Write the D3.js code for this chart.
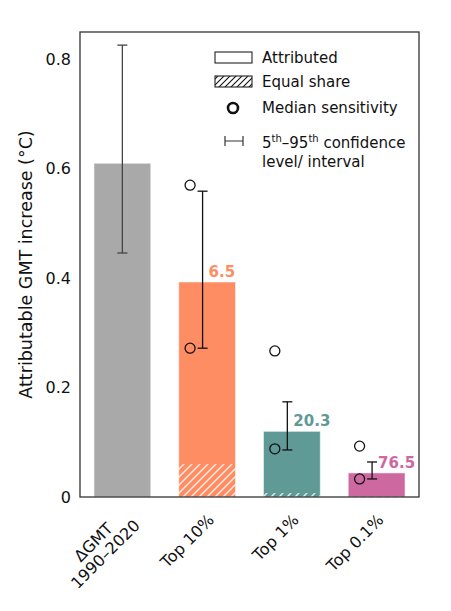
<!DOCTYPE html>
<html lang="en">
<head>
  <meta charset="UTF-8" />
  <title>Attributable GMT increase</title>
  <script src="https://d3js.org/d3.v7.min.js"></script>
  <style>
    body { margin: 0; background: #fff; }
    svg { font-family: 'DejaVu Sans', 'Liberation Sans', sans-serif; }
  </style>
</head>
<body>
  <svg></svg>

  <script>
    const categories = ["ΔGMT\n1990–2020", "Top 10%", "Top 1%", "Top 0.1%"];
    const attributed = [0.61, 0.393, 0.12, 0.044];
    const equalShare = [null, 0.06, 0.007, 0.0007];
    const ciLow = [0.446, 0.272, 0.086, 0.033];
    const ciHigh = [0.826, 0.559, 0.174, 0.064];
    const medianLow = [null, 0.272, 0.088, 0.033];
    const medianHigh = [null, 0.57, 0.267, 0.093];
    const ratioLabels = [null, "6.5", "20.3", "76.5"];
    const barColors = ["#a9a9a9", "#fe8d63", "#5f9a97", "#cd68a0"];
    const yTicks = [0, 0.2, 0.4, 0.6, 0.8];

    const width = 451, height = 611;
    const margin = { top: 32, right: 32, bottom: 114, left: 80 };

    const svg = d3.select("svg").attr("width", width).attr("height", height);
    const defs = svg.append("defs");

    // white hatch on the bars, black hatch in the legend
    defs.append("pattern")
      .attr("id", "hatch").attr("patternUnits", "userSpaceOnUse")
      .attr("width", 8).attr("height", 8)
      .append("path")
      .attr("d", "M-2,2 l4,-4 M0,8 l8,-8 M6,10 l4,-4")
      .attr("stroke", "#fff").attr("stroke-width", 1.4).attr("opacity", 0.85);
    defs.append("pattern")
      .attr("id", "hatchBlack").attr("patternUnits", "userSpaceOnUse")
      .attr("width", 6).attr("height", 6)
      .append("path")
      .attr("d", "M-2,2 l4,-4 M0,6 l6,-6 M4,8 l4,-4")
      .attr("stroke", "#111").attr("stroke-width", 1.1);

    const x = d3.scaleBand()
      .domain(categories)
      .range([margin.left, width - margin.right])
      .paddingInner(0.33)
      .paddingOuter(0.165);

    const y = d3.scaleLinear()
      .domain([0, 0.85])
      .range([height - margin.bottom, margin.top]);

    const bw = x.bandwidth();
    const cx = d => x(d) + bw / 2;

    // bars
    svg.append("g").selectAll("rect")
      .data(categories)
      .join("rect")
      .attr("x", d => x(d))
      .attr("width", bw)
      .attr("y", (d, i) => y(attributed[i]))
      .attr("height", (d, i) => y(0) - y(attributed[i]))
      .attr("fill", (d, i) => barColors[i])
      .attr("stroke", "#fff").attr("stroke-opacity", 0.5).attr("stroke-width", 1);

    // equal share hatch
    svg.append("g").selectAll("rect")
      .data(categories.filter((d, i) => equalShare[i] != null))
      .join("rect")
      .attr("x", d => x(d))
      .attr("width", bw)
      .attr("y", d => y(equalShare[categories.indexOf(d)]))
      .attr("height", d => y(0) - y(equalShare[categories.indexOf(d)]))
      .attr("fill", "url(#hatch)");

    // frame
    svg.append("rect")
      .attr("x", margin.left).attr("y", margin.top)
      .attr("width", width - margin.left - margin.right)
      .attr("height", height - margin.top - margin.bottom)
      .attr("fill", "none").attr("stroke", "#333").attr("stroke-width", 1.3);

    // error bars
    const errX = (d, i) => cx(d) + (i === 0 ? 0 : -0.08 * bw);
    const err = svg.append("g").selectAll("g")
      .data(categories)
      .join("g")
      .attr("stroke", (d, i) => i === 0 ? "#444" : "#111")
      .attr("stroke-width", 1.3);
    err.append("line")
      .attr("x1", errX).attr("x2", errX)
      .attr("y1", (d, i) => y(ciLow[i])).attr("y2", (d, i) => y(ciHigh[i]));
    [ciLow, ciHigh].forEach(arr => {
      err.append("line")
        .attr("x1", (d, i) => errX(d, i) - 5).attr("x2", (d, i) => errX(d, i) + 5)
        .attr("y1", (d, i) => y(arr[i])).attr("y2", (d, i) => y(arr[i]));
    });

    // median sensitivity circles
    [medianLow, medianHigh].forEach(arr => {
      svg.append("g").selectAll("circle")
        .data(categories.filter((d, i) => arr[i] != null))
        .join("circle")
        .attr("cx", d => cx(d) - 0.3 * bw)
        .attr("cy", d => y(arr[categories.indexOf(d)]))
        .attr("r", 5)
        .attr("fill", "none").attr("stroke", "#111").attr("stroke-width", 1.3);
    });

    // ratio labels
    svg.append("g").selectAll("text")
      .data(categories.filter((d, i) => ratioLabels[i] != null))
      .join("text")
      .attr("x", d => errX(d, 1) + 6)
      .attr("y", d => y(attributed[categories.indexOf(d)]) - 5)
      .attr("fill", d => barColors[categories.indexOf(d)])
      .attr("font-size", 15).attr("font-weight", "bold")
      .text(d => ratioLabels[categories.indexOf(d)]);

    // y axis
    const yAxis = svg.append("g")
      .attr("transform", `translate(${margin.left},0)`)
      .call(d3.axisLeft(y).tickValues(yTicks).tickSize(0).tickPadding(9)
        .tickFormat(d => d === 0 ? "0" : d3.format(".1f")(d)));
    yAxis.select(".domain").remove();
    yAxis.selectAll("text").attr("font-size", 16).attr("fill", "#111")
      .attr("font-family", "'DejaVu Sans', sans-serif");

    svg.append("text")
      .attr("transform", `translate(26,${(margin.top + height - margin.bottom) / 2}) rotate(-90)`)
      .attr("text-anchor", "middle").attr("dy", "0.35em")
      .attr("font-size", 17.5).attr("fill", "#111")
      .text("Attributable GMT increase (°C)");

    // x labels, rotated
    const xl = svg.append("g").selectAll("g")
      .data(categories)
      .join("g")
      .attr("transform", d => `translate(${cx(d) + (d.includes("\n") ? 12 : 8)},521) rotate(-45)`);
    xl.each(function(d) {
      const lines = d.split("\n");
      const t = d3.select(this).append("text")
        .attr("font-size", 16).attr("fill", "#111");
      if (lines.length === 1) {
        t.attr("text-anchor", "end").text(d);
      } else {
        t.attr("text-anchor", "middle");
        lines.forEach((ln, k) => {
          t.append("tspan").attr("x", -44).attr("y", (k - 0.5) * 17).text(ln);
        });
      }
    });

    // legend
    const lg = svg.append("g").attr("font-size", 15).attr("fill", "#111");
    lg.append("rect").attr("x", 215).attr("y", 52).attr("width", 37).attr("height", 11)
      .attr("fill", "#fff").attr("stroke", "#222").attr("stroke-width", 1.1);
    lg.append("text").attr("x", 262).attr("y", 63).text("Attributed");
    lg.append("rect").attr("x", 215).attr("y", 76).attr("width", 37).attr("height", 11)
      .attr("fill", "url(#hatchBlack)").attr("stroke", "#222").attr("stroke-width", 1.1);
    lg.append("text").attr("x", 262).attr("y", 87).text("Equal share");
    lg.append("circle").attr("cx", 233).attr("cy", 108).attr("r", 5)
      .attr("fill", "none").attr("stroke", "#111").attr("stroke-width", 2.6);
    lg.append("text").attr("x", 262).attr("y", 113).text("Median sensitivity");
    lg.append("path").attr("d", "M225,136 v10 M225,141 h18 M243,136 v10")
      .attr("fill", "none").attr("stroke", "#333").attr("stroke-width", 1.2);
    const ci = lg.append("text").attr("x", 262).attr("y", 148);
    ci.append("tspan").text("5");
    ci.append("tspan").attr("font-size", 10).attr("dy", -6).text("th");
    ci.append("tspan").attr("dy", 6).text("–95");
    ci.append("tspan").attr("font-size", 10).attr("dy", -6).text("th");
    ci.append("tspan").attr("dy", 6).text(" confidence");
    lg.append("text").attr("x", 262).attr("y", 167).text("level/ interval");
  </script>
</body>
</html>
